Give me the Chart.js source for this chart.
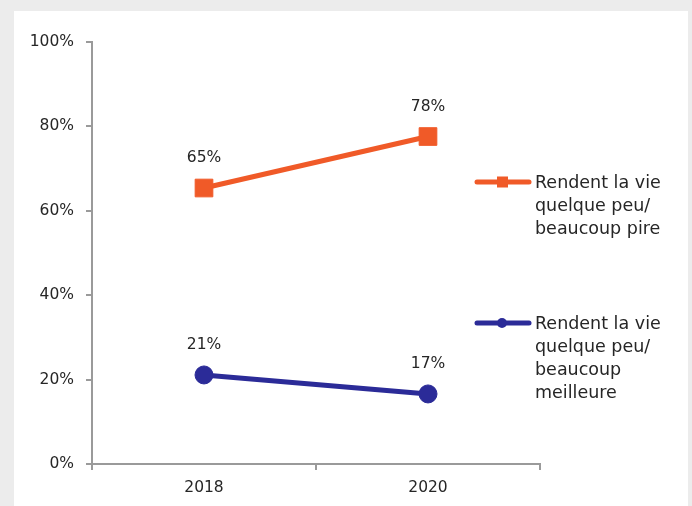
<!DOCTYPE html>
<html>
<head>
<meta charset="utf-8">
<script src="https://cdn.jsdelivr.net/npm/chart.js@4/dist/chart.umd.min.js"></script>
<style>
  html, body { margin: 0; padding: 0; background: #ececec; }
  canvas { display: block; }
</style>
</head>
<body>
<canvas id="c" width="692" height="506"></canvas>
<script>
const categories = ['2018', '2020'];
const pireValues = [65.4, 77.6];
const meilleureValues = [21.1, 16.6];
const pireLabel = ['Rendent la vie', 'quelque peu/', 'beaucoup pire'];
const meilleureLabel = ['Rendent la vie', 'quelque peu/', 'beaucoup', 'meilleure'];
const yTicks = [0, 20, 40, 60, 80, 100];

const FONT = '"DejaVu Sans", sans-serif';
const ORANGE = '#F05A28';
const BLUE = '#2B2B98';
const AXIS = '#9a9a9a';
const TEXT = '#262626';

const bgPlugin = {
  id: 'bg',
  beforeDraw(chart) {
    const ctx = chart.ctx;
    ctx.save();
    ctx.fillStyle = '#ececec';
    ctx.fillRect(0, 0, chart.width, chart.height);
    ctx.fillStyle = '#ffffff';
    ctx.fillRect(14, 11, 674, chart.height - 11);
    ctx.restore();
  }
};

const labelPlugin = {
  id: 'dataLabels',
  afterDatasetsDraw(chart) {
    const ctx = chart.ctx;
    ctx.save();
    ctx.font = '15.5px ' + FONT;
    ctx.fillStyle = TEXT;
    ctx.textAlign = 'center';
    ctx.textBaseline = 'middle';
    chart.data.datasets.forEach((ds, di) => {
      const meta = chart.getDatasetMeta(di);
      meta.data.forEach((pt, i) => {
        ctx.fillText(Math.round(ds.data[i]) + '%', pt.x, pt.y - 30);
      });
    });
    ctx.restore();
  }
};

const legendPlugin = {
  id: 'customLegend',
  afterDraw(chart) {
    const ctx = chart.ctx;
    const items = [
      { color: ORANGE, style: 'rect', y: 182, lines: pireLabel },
      { color: BLUE, style: 'circle', y: 323, lines: meilleureLabel }
    ];
    ctx.save();
    items.forEach(it => {
      ctx.strokeStyle = it.color;
      ctx.lineWidth = 5;
      ctx.lineCap = 'round';
      ctx.beginPath();
      ctx.moveTo(477, it.y);
      ctx.lineTo(529, it.y);
      ctx.stroke();
      ctx.fillStyle = it.color;
      if (it.style === 'rect') {
        ctx.fillRect(497, it.y - 5.5, 11, 11);
      } else {
        ctx.beginPath();
        ctx.arc(502, it.y, 5, 0, Math.PI * 2);
        ctx.fill();
      }
      ctx.fillStyle = TEXT;
      ctx.font = '17.5px ' + FONT;
      ctx.textAlign = 'left';
      ctx.textBaseline = 'alphabetic';
      it.lines.forEach((ln, k) => {
        ctx.fillText(ln, 535, it.y + 6 + k * 23);
      });
    });
    ctx.restore();
  }
};

new Chart(document.getElementById('c'), {
  type: 'line',
  data: {
    labels: categories,
    datasets: [
      {
        label: pireLabel.join(' '),
        data: pireValues,
        borderColor: ORANGE,
        backgroundColor: ORANGE,
        borderWidth: 5,
        pointStyle: 'rect',
        pointRadius: 12.5,
        pointBorderWidth: 1,
        pointBackgroundColor: ORANGE,
        pointBorderColor: ORANGE
      },
      {
        label: meilleureLabel.join(' '),
        data: meilleureValues,
        borderColor: BLUE,
        backgroundColor: BLUE,
        borderWidth: 5,
        pointStyle: 'circle',
        pointRadius: 9,
        pointBorderWidth: 1,
        pointBackgroundColor: BLUE,
        pointBorderColor: BLUE
      }
    ]
  },
  options: {
    responsive: false,
    devicePixelRatio: 1,
    animation: false,
    layout: { padding: { top: 42, right: 152, left: 0, bottom: 0 } },
    plugins: {
      legend: { display: false },
      tooltip: { enabled: false }
    },
    scales: {
      x: {
        type: 'category',
        offset: true,
        grid: { offset: true, drawOnChartArea: false, drawTicks: true, tickLength: 6, color: AXIS, lineWidth: 2 },
        border: { display: true, color: AXIS, width: 2 },
        ticks: { font: { family: FONT, size: 15.5 }, color: TEXT, padding: 9 },
        afterFit(scale) { scale.height = 42; }
      },
      y: {
        min: 0,
        max: 100,
        afterBuildTicks(scale) { scale.ticks = yTicks.map(v => ({ value: v })); },
        grid: { drawOnChartArea: false, drawTicks: true, tickLength: 6, color: AXIS, lineWidth: 2 },
        border: { display: true, color: AXIS, width: 2 },
        ticks: { font: { family: FONT, size: 15.5 }, color: TEXT, padding: 12, callback: v => v + '%' },
        afterFit(scale) { scale.width = 92; }
      }
    }
  },
  plugins: [bgPlugin, labelPlugin, legendPlugin]
});
</script>
</body>
</html>
